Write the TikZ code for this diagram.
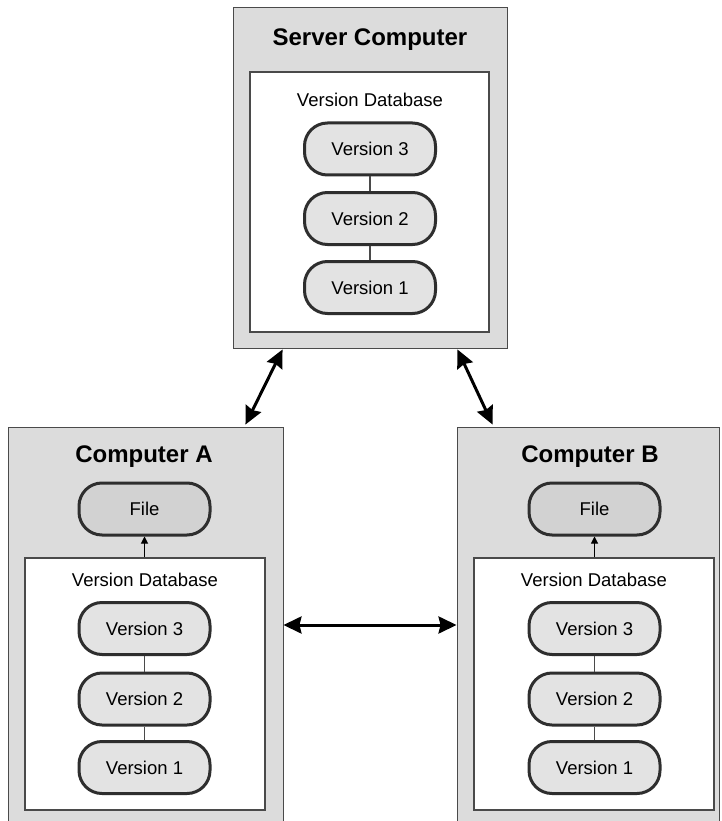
\documentclass[tikz,border=0pt]{standalone}
\usepackage{fontspec}
\setmainfont{Liberation Sans}
\usetikzlibrary{arrows.meta}
\definecolor{boxgray}{HTML}{DCDCDC}
\definecolor{pillgray}{HTML}{E3E3E3}
\definecolor{filegray}{HTML}{D2D2D2}
\definecolor{edgegray}{HTML}{4A4A4A}
\definecolor{pilledge}{HTML}{2E2E2E}
\tikzset{
  machine/.style={draw=edgegray, line width=0.9pt, fill=boxgray, inner sep=0pt},
  dbbox/.style={draw=edgegray, line width=1.3pt, fill=white, inner sep=0pt},
  pill/.style={draw=pilledge, line width=3pt, fill=pillgray, rounded corners=23pt,
    minimum width=131pt, minimum height=52pt, inner sep=0pt,
    font=\fontsize{18.5}{22}\selectfont},
  filepill/.style={pill, fill=filegray},
  title/.style={font=\fontsize{24}{28}\selectfont\bfseries, inner sep=0pt},
  dblabel/.style={font=\fontsize{18.5}{22}\selectfont, inner sep=0pt},
  link/.style={draw=edgegray, line width=1.3pt},
  sync/.style={line width=3pt, {Stealth[length=18pt,width=17pt,inset=2pt]}-{Stealth[length=18pt,width=17pt,inset=2pt]}},
  checkout/.style={line width=1pt, -{Triangle[length=7pt,width=7pt]}}
}
\begin{document}
\begin{tikzpicture}[x=1pt,y=1pt]
\clip (0,0) rectangle (721,-821);
\fill[white] (0,0) rectangle (721,-821);
% machines
\node[machine, minimum width=274pt, minimum height=341pt] (server) at (370,-177.5) {};
\node[machine, minimum width=275pt, minimum height=403pt] (compA) at (145.5,-628.5) {};
\node[machine, minimum width=262pt, minimum height=403pt] (compB) at (588,-628.5) {};
% databases
\node[dbbox, minimum width=239pt, minimum height=260pt] (dbS) at (369.5,-202) {};
\node[dbbox, minimum width=240pt, minimum height=252pt] (dbA) at (145,-684) {};
\node[dbbox, minimum width=240pt, minimum height=252pt] (dbB) at (594,-684) {};
% titles
\node[title] (tS) at (370,-40) {Server Computer};
\node[title] (tA) at (144,-457) {Computer A};
\node[title] (tB) at (590,-457) {Computer B};
% db labels
\node[dblabel] (lS) at (370,-100) {Version Database};
\node[dblabel] (lA) at (145,-580) {Version Database};
\node[dblabel] (lB) at (594,-580) {Version Database};
% server versions
\node[pill] (s3) at (370,-149) {Version 3};
\node[pill] (s2) at (370,-218.5) {Version 2};
\node[pill] (s1) at (370,-287.5) {Version 1};
% computer A
\node[filepill] (fA) at (144.5,-509) {File};
\node[pill] (a3) at (144.5,-628.5) {Version 3};
\node[pill] (a2) at (144.5,-699) {Version 2};
\node[pill] (a1) at (144.5,-767.5) {Version 1};
% computer B
\node[filepill] (fB) at (594.5,-509) {File};
\node[pill] (b3) at (594.5,-628.5) {Version 3};
\node[pill] (b2) at (594.5,-699) {Version 2};
\node[pill] (b1) at (594.5,-767.5) {Version 1};
% links
\draw[link] (s3) -- (s2);
\draw[link] (s2) -- (s1);
\draw[link] (a3) -- (a2);
\draw[link] (a2) -- (a1);
\draw[link] (b3) -- (b2);
\draw[link] (b2) -- (b1);
% checkout arrows
\draw[checkout] (dbA.north -| fA.south) -- (fA.south);
\draw[checkout] (dbB.north -| fB.south) -- (fB.south);
% sync arrows
\draw[sync] ([xshift=50pt,yshift=-1pt]server.south west) -- ([xshift=-38pt,yshift=2pt]compA.north east);
\draw[sync] ([xshift=-50pt,yshift=-1pt]server.south east) -- ([xshift=36pt,yshift=2pt]compB.north west);
\draw[sync] ([yshift=3.5pt]compA.east) -- ([yshift=3.5pt]compB.west);
\end{tikzpicture}
\end{document}
